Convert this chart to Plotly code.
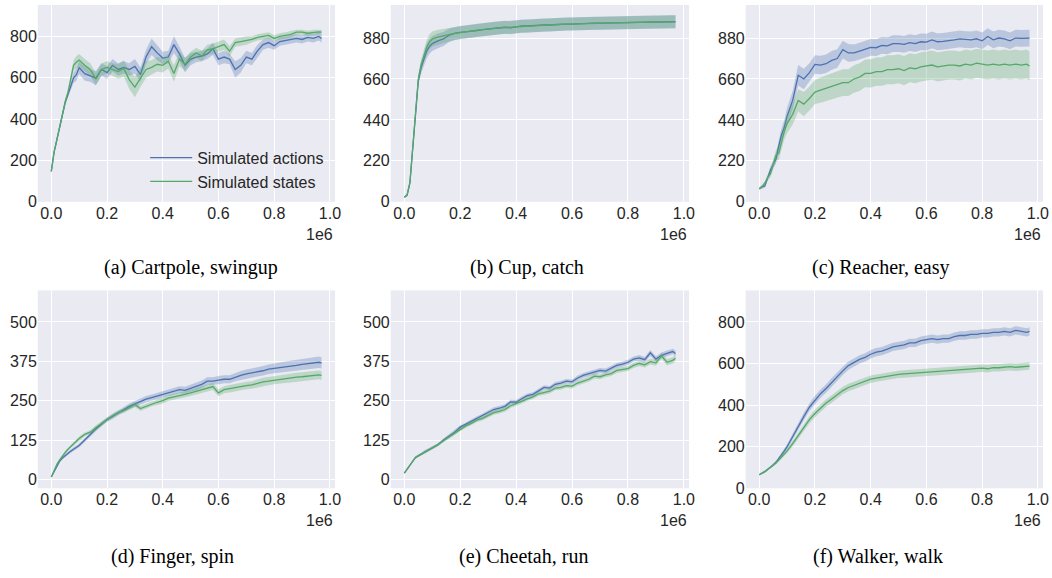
import numpy as np
import plotly.graph_objects as go

# ---------------- data ----------------
X = [0.00, 0.01, 0.02, 0.03, 0.04, 0.05, 0.06, 0.07, 0.08, 0.09, 0.10,
     0.12, 0.14, 0.16, 0.18, 0.20, 0.22, 0.24, 0.26, 0.28, 0.30,
     0.32, 0.34, 0.36, 0.38, 0.40, 0.42, 0.44, 0.46, 0.48, 0.50,
     0.52, 0.54, 0.56, 0.58, 0.60, 0.62, 0.64, 0.66, 0.68, 0.70,
     0.72, 0.74, 0.76, 0.78, 0.80, 0.82, 0.84, 0.86, 0.88, 0.90,
     0.92, 0.94, 0.96, 0.97]  # environment steps, x 1e6

series_names = ["Simulated actions", "Simulated states"]
captions = ["(a) Cartpole, swingup", "(b) Cup, catch", "(c) Reacher, easy",
            "(d) Finger, spin", "(e) Cheetah, run", "(f) Walker, walk"]

cartpole_actions = [147, 240, 300, 360, 430, 480, 520, 560, 600, 615, 648,
                    620, 610, 598, 640, 625, 660, 640, 650, 640, 655,
                    615, 700, 750, 720, 695, 700, 760, 715, 660, 690,
                    700, 705, 715, 740, 690, 700, 690, 640, 660, 700,
                    690, 730, 760, 770, 755, 775, 780, 785, 790, 785,
                    795, 790, 800, 790]
cartpole_actions_sd = [3, 5, 8, 10, 10, 12, 15, 20, 25, 30, 30,
                       35, 30, 35, 30, 30, 30, 30, 30, 30, 35,
                       35, 35, 40, 35, 30, 30, 40, 35, 35, 30,
                       25, 25, 25, 30, 30, 30, 25, 40, 35, 30,
                       30, 30, 25, 25, 20, 20, 20, 20, 20, 20,
                       20, 20, 20, 20]
cartpole_states = [147, 240, 300, 365, 435, 485, 530, 590, 660, 675, 685,
                   660, 640, 593, 640, 650, 640, 630, 645, 590, 555,
                   600, 640, 650, 665, 660, 680, 620, 690, 665, 700,
                   720, 705, 735, 740, 750, 760, 728, 770, 775, 780,
                   785, 795, 800, 805, 790, 800, 805, 810, 820, 820,
                   815, 820, 822, 820]
cartpole_states_sd = [3, 5, 8, 10, 10, 12, 15, 20, 25, 30, 30,
                      30, 30, 30, 30, 30, 30, 35, 40, 45, 50,
                      45, 40, 35, 35, 35, 35, 40, 35, 30, 25,
                      25, 25, 25, 25, 25, 25, 25, 20, 20, 20,
                      15, 15, 15, 15, 15, 15, 15, 15, 12, 12,
                      12, 12, 12, 12]

cup_actions = [25, 35, 100, 280, 480, 650, 720, 770, 810, 835, 850,
               865, 875, 895, 905, 910, 912, 918, 920, 925, 928,
               930, 935, 938, 935, 940, 945, 945, 948, 948, 950,
               950, 953, 955, 955, 955, 957, 958, 958, 960, 960,
               960, 962, 962, 963, 963, 964, 964, 965, 965, 966,
               966, 967, 968, 968]
cup_actions_sd = [3, 5, 10, 15, 20, 25, 30, 35, 40, 40, 40,
                  40, 38, 36, 35, 35, 35, 35, 35, 35, 35,
                  35, 35, 35, 35, 35, 35, 35, 35, 35, 35,
                  35, 35, 35, 35, 35, 35, 35, 35, 35, 35,
                  35, 35, 35, 35, 35, 35, 35, 35, 35, 35,
                  35, 35, 35, 35]
cup_states = [25, 38, 105, 290, 490, 660, 735, 790, 830, 860, 875,
              885, 890, 898, 905, 910, 915, 918, 922, 925, 930,
              932, 935, 937, 938, 940, 943, 946, 947, 949, 950,
              951, 953, 954, 955, 956, 957, 957, 958, 959, 960,
              961, 962, 962, 963, 963, 964, 965, 965, 965, 966,
              966, 967, 967, 967]
cup_states_sd = [3, 5, 10, 15, 20, 25, 30, 35, 40, 40, 40,
                 40, 38, 36, 35, 35, 35, 35, 35, 35, 35,
                 35, 35, 35, 35, 35, 35, 35, 35, 35, 35,
                 35, 35, 35, 35, 35, 35, 35, 35, 35, 35,
                 35, 35, 35, 35, 35, 35, 35, 35, 35, 35,
                 35, 35, 35, 35]

reacher_actions = [70, 80, 85, 130, 170, 200, 230, 300, 360, 400, 460,
                   545, 680, 660, 694, 738, 735, 742, 760, 770, 818,
                   800, 800, 810, 820, 830, 828, 840, 838, 850, 850,
                   846, 855, 850, 860, 858, 870, 860, 862, 865, 870,
                   875, 872, 870, 876, 865, 888, 870, 880, 875, 865,
                   880, 878, 882, 880]
reacher_actions_sd = [5, 8, 10, 15, 20, 20, 25, 30, 35, 40, 45,
                      50, 55, 55, 50, 50, 50, 50, 50, 50, 48,
                      48, 45, 45, 45, 45, 45, 45, 45, 45, 45,
                      45, 45, 45, 45, 45, 45, 45, 45, 45, 45,
                      45, 45, 45, 45, 45, 45, 45, 45, 45, 45,
                      45, 45, 45, 45]
reacher_states = [70, 82, 100, 130, 150, 200, 250, 260, 320, 380, 420,
                  470, 545, 525, 555, 590, 600, 610, 620, 630, 640,
                  640, 660, 670, 690, 690, 700, 700, 710, 710, 715,
                  705, 720, 715, 725, 730, 735, 725, 730, 735, 735,
                  730, 740, 735, 745, 740, 735, 740, 735, 740, 735,
                  740, 735, 740, 730]
reacher_states_sd = [5, 8, 10, 15, 20, 25, 30, 35, 40, 45, 50,
                     55, 60, 65, 65, 65, 68, 70, 70, 72, 72,
                     72, 74, 75, 75, 76, 76, 77, 78, 78, 78,
                     78, 78, 78, 78, 78, 78, 78, 78, 78, 78,
                     78, 78, 78, 78, 78, 78, 78, 78, 78, 78,
                     78, 78, 78, 78]

finger_actions = [8, 25, 45, 58, 68, 76, 84, 90, 96, 102, 108,
                  125, 143, 160, 175, 190, 200, 212, 222, 232, 240,
                  248, 255, 260, 265, 272, 275, 280, 285, 283, 290,
                  295, 302, 312, 312, 315, 318, 318, 325, 330, 335,
                  338, 342, 345, 350, 352, 355, 358, 360, 362, 365,
                  368, 370, 372, 370]
finger_actions_sd = [2, 3, 4, 4, 5, 5, 5, 5, 6, 6, 6,
                     6, 6, 7, 7, 7, 8, 8, 8, 9, 9,
                     9, 10, 10, 10, 10, 10, 11, 11, 11, 11,
                     12, 12, 12, 12, 13, 13, 13, 13, 14, 14,
                     14, 15, 15, 15, 15, 16, 16, 16, 17, 17,
                     17, 18, 18, 18]
finger_states = [8, 28, 48, 62, 75, 86, 96, 105, 114, 122, 130,
                 143, 150, 165, 178, 190, 202, 212, 218, 228, 238,
                 225, 232, 240, 245, 250, 258, 262, 265, 270, 275,
                 280, 285, 290, 295, 275, 285, 288, 292, 295, 298,
                 300, 305, 310, 312, 315, 318, 320, 322, 325, 326,
                 328, 330, 332, 330]
finger_states_sd = [2, 3, 4, 4, 5, 5, 5, 5, 6, 6, 6,
                    6, 6, 7, 7, 7, 7, 7, 7, 8, 8,
                    8, 8, 8, 9, 9, 9, 9, 10, 10, 10,
                    10, 11, 11, 11, 11, 11, 12, 12, 12, 12,
                    12, 13, 13, 13, 13, 13, 14, 14, 14, 14,
                    14, 14, 14, 14]

cheetah_actions = [20, 32, 45, 60, 70, 75, 80, 87, 92, 95, 100,
                   110, 125, 138, 150, 166, 175, 186, 195, 202, 212,
                   222, 226, 232, 246, 245, 256, 266, 270, 282, 292,
                   290, 302, 306, 312, 310, 322, 330, 336, 342, 346,
                   344, 352, 362, 366, 372, 382, 386, 380, 402, 382,
                   394, 400, 406, 400]
cheetah_actions_sd = [2, 3, 3, 4, 4, 4, 4, 5, 5, 5, 5,
                      5, 5, 6, 6, 6, 6, 6, 6, 7, 7,
                      7, 7, 7, 7, 7, 7, 7, 7, 7, 7,
                      7, 7, 7, 7, 7, 8, 8, 8, 8, 8,
                      8, 8, 8, 8, 8, 8, 9, 9, 9, 9,
                      9, 9, 9, 9]
cheetah_states = [20, 32, 45, 60, 70, 75, 80, 86, 91, 95, 100,
                  110, 123, 135, 146, 160, 170, 178, 188, 194, 202,
                  212, 216, 222, 234, 240, 248, 256, 262, 272, 276,
                  280, 290, 292, 298, 296, 306, 312, 318, 328, 326,
                  332, 336, 346, 350, 352, 362, 368, 364, 374, 370,
                  392, 372, 378, 385]
cheetah_states_sd = [2, 3, 3, 4, 4, 4, 4, 5, 5, 5, 5,
                     5, 5, 6, 6, 6, 6, 6, 6, 7, 7,
                     7, 7, 7, 7, 7, 7, 7, 7, 7, 7,
                     7, 7, 7, 7, 7, 8, 8, 8, 8, 8,
                     8, 8, 8, 8, 8, 8, 9, 9, 9, 9,
                     10, 10, 10, 10]

walker_actions = [65, 72, 80, 90, 100, 112, 125, 142, 160, 180, 200,
                  250, 300, 345, 390, 425, 455, 480, 510, 540, 565,
                  590, 605, 620, 630, 645, 655, 660, 670, 680, 685,
                  690, 700, 700, 710, 715, 720, 715, 720, 720, 730,
                  735, 735, 740, 740, 745, 745, 750, 750, 755, 750,
                  760, 755, 750, 755]
walker_actions_sd = [3, 4, 5, 5, 6, 6, 7, 8, 9, 10, 12,
                     14, 16, 18, 18, 20, 20, 20, 20, 20, 20,
                     20, 20, 20, 20, 20, 20, 20, 20, 20, 20,
                     20, 20, 20, 20, 20, 20, 20, 20, 20, 20,
                     20, 20, 20, 20, 20, 20, 20, 20, 20, 20,
                     20, 20, 20, 20]
walker_states = [65, 72, 80, 90, 100, 110, 122, 136, 150, 165, 180,
                 215, 255, 290, 330, 360, 385, 410, 430, 450, 470,
                 485, 495, 505, 515, 525, 530, 535, 540, 545, 548,
                 550, 552, 555, 558, 560, 560, 565, 565, 568, 570,
                 570, 575, 575, 578, 578, 575, 580, 580, 582, 585,
                 582, 585, 585, 588]
walker_states_sd = [3, 4, 5, 5, 6, 6, 7, 8, 9, 10, 12,
                    14, 15, 16, 17, 18, 18, 18, 18, 18, 18,
                    18, 18, 18, 18, 18, 18, 18, 18, 18, 18,
                    18, 18, 18, 18, 18, 18, 18, 18, 18, 18,
                    18, 18, 18, 18, 18, 18, 18, 18, 18, 18,
                    18, 18, 18, 18]

panels = [
    (cartpole_actions, cartpole_actions_sd, cartpole_states, cartpole_states_sd),
    (cup_actions, cup_actions_sd, cup_states, cup_states_sd),
    (reacher_actions, reacher_actions_sd, reacher_states, reacher_states_sd),
    (finger_actions, finger_actions_sd, finger_states, finger_states_sd),
    (cheetah_actions, cheetah_actions_sd, cheetah_states, cheetah_states_sd),
    (walker_actions, walker_actions_sd, walker_states, walker_states_sd),
]
y_ticks = [[0, 200, 400, 600, 800], [0, 220, 440, 660, 880], [0, 220, 440, 660, 880],
           [0, 125, 250, 375, 500], [0, 125, 250, 375, 500], [0, 200, 400, 600, 800]]
x_ticks = [0.0, 0.2, 0.4, 0.6, 0.8, 1.0]
x_tick_text = ["0.0", "0.2", "0.4", "0.6", "0.8", "1.0"]

# ---------------- style / layout ----------------
W, H = 1052, 578
BLUE = "#4C72B0"
GREEN = "#55A868"
FILLS = ["rgba(76,114,176,0.3)", "rgba(85,168,104,0.3)"]
LINES = [BLUE, GREEN]
BG = "#EAEAF2"
TXT = "#262626"
TICKFONT = dict(family="Liberation Sans", size=16, color=TXT)

# pixel boxes (left, right, top, bottom)
cols_px = [(38, 337), (393, 693), (750, 1049)]
rows_px = [(5, 205), (295, 496)]
y_ranges = [[0, 952], [0, 1058], [0, 1058], [-28, 600], [-28, 600], [0, 952]]
cap_x = [192, 530, 886, 173, 527, 883]
cap_y = [272, 565]

fig = go.Figure()
layout = dict(
    width=W, height=H, margin=dict(l=0, r=0, t=0, b=0, pad=0),
    paper_bgcolor="white", plot_bgcolor=BG,
    showlegend=True,
    legend=dict(x=146 / W, y=1 - 143 / H, xanchor="left", yanchor="top",
                traceorder="normal", itemwidth=42,
                bgcolor="rgba(0,0,0,0)", font=dict(family="Liberation Sans", size=16, color=TXT)),
    annotations=[],
)

xarr = np.array(X)
for k, (m1, s1, m2, s2) in enumerate(panels):
    r, c = divmod(k, 3)
    ax = "" if k == 0 else str(k + 1)
    xa, ya = "x" + ax, "y" + ax
    for j, (m, s) in enumerate([(m1, s1), (m2, s2)]):
        m = np.array(m, dtype=float)
        s = np.array(s, dtype=float)
        assert len(m) == len(X) and len(s) == len(X)
        fig.add_trace(go.Scatter(x=xarr, y=m + s, mode="lines", line=dict(width=0),
                                 hoverinfo="skip", showlegend=False, xaxis=xa, yaxis=ya))
        fig.add_trace(go.Scatter(x=xarr, y=m - s, mode="lines", line=dict(width=0),
                                 fill="tonexty", fillcolor=FILLS[j],
                                 hoverinfo="skip", showlegend=False, xaxis=xa, yaxis=ya))
        fig.add_trace(go.Scatter(x=xarr, y=m, mode="lines", line=dict(color=LINES[j], width=1.3),
                                 name=series_names[j], showlegend=(k == 0),
                                 xaxis=xa, yaxis=ya))
    l, rr = cols_px[c]
    t, b = rows_px[r]
    layout["xaxis" + ax] = dict(
        domain=[l / W, rr / W], range=[-0.0485, 1.0185], anchor=ya,
        tickvals=x_ticks, ticktext=x_tick_text, showgrid=True, gridcolor="white", gridwidth=1,
        zeroline=False, showline=False, ticks="", ticklen=0, tickfont=TICKFONT)
    layout["yaxis" + ax] = dict(
        domain=[1 - b / H, 1 - t / H], range=y_ranges[k], anchor=xa,
        tickvals=y_ticks[k], showgrid=True, gridcolor="white", gridwidth=1,
        zeroline=False, showline=False, ticks="", ticklen=0, tickfont=TICKFONT)
    layout["annotations"].append(dict(
        text="1e6", xref="paper", yref="paper", x=rr / W, y=1 - (b + 33) / H,
        xanchor="right", yanchor="middle", showarrow=False, font=TICKFONT))
    layout["annotations"].append(dict(
        text=captions[k], xref="paper", yref="paper", x=cap_x[k] / W, y=1 - cap_y[r] / H,
        xanchor="center", yanchor="middle", showarrow=False,
        font=dict(family="Liberation Serif", size=20, color="black")))

fig.update_layout(**layout)
fig.write_html("out.html", config={"displayModeBar": False},
               post_script="document.body.style.margin='0px';document.body.style.overflow='hidden';")
